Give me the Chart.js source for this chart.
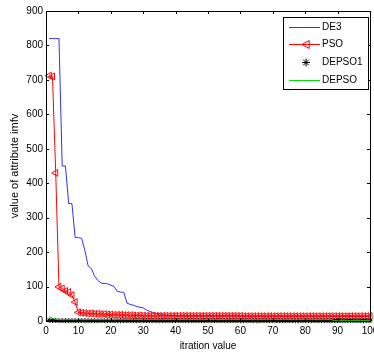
<!DOCTYPE html>
<html>
<head>
<meta charset="utf-8">
<script src="https://cdn.jsdelivr.net/npm/chart.js@4/dist/chart.umd.min.js"></script>
<style>
	html, body { margin: 0; padding: 0; background: #fff; overflow: hidden; }
	canvas { display: block; }
</style>
</head>
<body>
<canvas id="convChart" width="390" height="354"></canvas>
<script>
// iteration index 1..100 (x categories)
const iterations = Array.from({ length: 100 }, (_, i) => i + 1)

const xTicks = [0, 10, 20, 30, 40, 50, 60, 70, 80, 90, 100]
const yTicks = [0, 100, 200, 300, 400, 500, 600, 700, 800, 900]

const de3 = [
	820, 820, 820, 820, 450, 450, 341, 341, 242, 242,
	240, 205, 160, 152, 130, 118, 110, 109, 108, 104,
	100, 86, 84, 83, 52, 48, 46, 42, 40, 38,
	32, 28, 25, 22, 20, 18, 17, 16, 16, 15,
	15, 15, 15, 15, 15, 15, 15, 15, 15, 15,
	15, 15, 15, 15, 15, 15, 15, 15, 15, 15,
	14, 14, 14, 14, 14, 14, 14, 14, 14, 14,
	14, 14, 14, 14, 14, 14, 14, 14, 14, 14,
	14, 14, 14, 14, 14, 14, 14, 14, 14, 14,
	14, 14, 14, 14, 14, 14, 14, 14, 14, 14
]
const pso = [
	712, 710, 430, 99, 94, 87, 84, 75, 55, 25,
	24, 23, 22, 22, 21, 21, 20, 20, 19, 19,
	18, 18, 18, 17, 17, 17, 16, 16, 16, 16,
	15, 15, 15, 15, 15, 15, 15, 15, 15, 15,
	15, 15, 15, 15, 15, 15, 15, 15, 15, 15,
	15, 15, 15, 15, 15, 15, 15, 15, 15, 15,
	14, 14, 14, 14, 14, 14, 14, 14, 14, 14,
	14, 14, 14, 14, 14, 14, 14, 14, 14, 14,
	14, 14, 14, 14, 14, 14, 14, 14, 14, 14,
	14, 14, 14, 14, 14, 14, 14, 14, 14, 14
]
const depso1 = [
	2, 1.5, 1.5, 1, 1, 1, 1, 1, 1, 1,
	1, 1, 1, 1, 1, 1, 1, 1, 1, 1,
	1, 1, 1, 1, 1, 1, 1, 1, 1, 1,
	1, 1, 1, 1, 1, 1, 1, 1, 1, 1,
	1, 1, 1, 1, 1, 1, 1, 1, 1, 1,
	1, 1, 1, 1, 1, 1, 1, 1, 1, 1,
	1, 1, 1, 1, 1, 1, 1, 1, 1, 1,
	1, 1, 1, 1, 1, 1, 1, 1, 1, 1,
	1, 1, 1, 1, 1, 1, 1, 1, 1, 1,
	1, 1, 1, 1, 1, 1, 1, 1, 1, 1
]
const depso = [
	12, 8, 5, 4, 4, 4, 4, 4, 4, 4,
	4, 4, 4, 4, 4, 4, 4, 4, 4, 4,
	4, 4, 4, 4, 4, 4, 4, 4, 4, 4,
	4, 4, 4, 4, 4, 4, 4, 4, 4, 4,
	4, 4, 4, 4, 4, 4, 4, 4, 4, 4,
	4, 4, 4, 4, 4, 4, 4, 4, 4, 4,
	4, 4, 4, 4, 4, 4, 4, 4, 4, 4,
	4, 4, 4, 4, 4, 4, 4, 4, 4, 4,
	4, 4, 4, 4, 4, 4, 4, 4, 1, 1,
	1, 1, 1, 1, 1, 1, 1, 1, 1, 1
]

const FONT = "'Liberation Sans', Arial, sans-serif"

function toPoints(values) {
	return values.map((v, i) => ({ x: iterations[i], y: v }))
}

// matlab style box with inward ticks on all four sides
const frameTicks = {
	id: 'frameTicks',
	afterDraw(chart) {
		const ctx = chart.ctx
		const a = chart.chartArea
		const xs = chart.scales.x
		const ys = chart.scales.y
		ctx.save()
		ctx.strokeStyle = '#000'
		ctx.lineWidth = 1
		ctx.beginPath()
		xTicks.forEach(t => {
			const px = Math.round(xs.getPixelForValue(t)) + 0.5
			ctx.moveTo(px, a.bottom); ctx.lineTo(px, a.bottom - 3)
			ctx.moveTo(px, a.top); ctx.lineTo(px, a.top + 3)
		})
		yTicks.forEach(t => {
			const py = Math.round(ys.getPixelForValue(t)) + 0.5
			ctx.moveTo(a.left, py); ctx.lineTo(a.left + 3, py)
			ctx.moveTo(a.right, py); ctx.lineTo(a.right - 3, py)
		})
		ctx.stroke()
		ctx.strokeRect(Math.round(a.left) + 0.5, Math.round(a.top) + 0.5,
			Math.round(a.right - a.left), Math.round(a.bottom - a.top))
		ctx.restore()
	}
}

function drawMarker(ctx, style, cx, cy, r) {
	ctx.beginPath()
	if (style === 'triangle') {
		ctx.moveTo(cx - r, cy)
		ctx.lineTo(cx + r * 0.8, cy - r)
		ctx.lineTo(cx + r * 0.8, cy + r)
		ctx.closePath()
	} else if (style === 'star') {
		for (let k = 0; k < 4; k++) {
			const ang = k * Math.PI / 4
			ctx.moveTo(cx - Math.cos(ang) * r, cy - Math.sin(ang) * r)
			ctx.lineTo(cx + Math.cos(ang) * r, cy + Math.sin(ang) * r)
		}
	}
	ctx.stroke()
}

// legend box in the top right corner of the axes
const boxLegend = {
	id: 'boxLegend',
	afterDraw(chart) {
		const ctx = chart.ctx
		const a = chart.chartArea
		const w = 85, h = 72
		const left = a.right - 2 - w
		const top = a.top + 6
		ctx.save()
		ctx.fillStyle = '#fff'
		ctx.fillRect(left, top, w, h)
		ctx.strokeStyle = '#000'
		ctx.lineWidth = 1
		ctx.strokeRect(left + 0.5, top + 0.5, w, h)
		ctx.font = '10px ' + FONT
		ctx.textBaseline = 'middle'
		chart.data.datasets.forEach((ds, i) => {
			const y = top + 9.5 + i * 17.7
			ctx.strokeStyle = ds.borderColor
			ctx.lineWidth = 1
			if (ds.showLine !== false) {
				ctx.beginPath()
				ctx.moveTo(left + 6, Math.round(y) + 0.5)
				ctx.lineTo(left + 37, Math.round(y) + 0.5)
				ctx.stroke()
			}
			if (ds.pointRadius > 0) {
				drawMarker(ctx, ds.pointStyle, left + 23, Math.round(y) + 0.5, 4)
			}
			ctx.fillStyle = '#000'
			ctx.fillText(ds.label, left + 39, y + 0.5)
		})
		ctx.restore()
	}
}

function createConvChart(place) {
	const ctx = place.getContext('2d')
	return new Chart(ctx, {
		type: 'line',
		data: {
			datasets: [
				{
					label: 'DE3',
					data: toPoints(de3),
					borderColor: '#3030ff',
					borderWidth: 1,
					pointRadius: 0,
					order: 4,
				},
				{
					label: 'PSO',
					data: toPoints(pso),
					borderColor: '#ff0000',
					borderWidth: 1,
					pointStyle: 'triangle',
					pointRotation: -90,
					pointRadius: 4,
					pointBorderWidth: 1,
					pointBackgroundColor: 'rgba(0,0,0,0)',
					pointBorderColor: '#ff0000',
					clip: 6,
					order: 3,
				},
				{
					label: 'DEPSO1',
					data: toPoints(depso1),
					borderColor: '#000',
					showLine: false,
					pointStyle: 'star',
					pointRadius: 2.5,
					pointBorderWidth: 1,
					pointBorderColor: '#000',
					clip: 6,
					order: 2,
				},
				{
					label: 'DEPSO',
					data: toPoints(depso),
					borderColor: '#00dd00',
					borderWidth: 1,
					pointRadius: 0,
					order: 1,
				},
			],
		},
		options: {
			responsive: false,
			animation: false,
			devicePixelRatio: 1,
			layout: { padding: { top: 11, right: 20, left: 0, bottom: 0 } },
			plugins: {
				legend: { display: false },
				tooltip: { enabled: false },
			},
			elements: { line: { tension: 0 } },
			scales: {
				x: {
					type: 'linear',
					min: 0,
					max: 100,
					afterFit: s => { s.height = 33 },
					afterBuildTicks: s => { s.ticks = xTicks.map(v => ({ value: v })) },
					grid: { display: false, drawTicks: false },
					border: { display: false },
					ticks: { color: '#000', padding: 4, font: { family: FONT, size: 10 }, maxRotation: 0 },
					title: {
						display: true,
						text: 'itration value',
						color: '#000',
						font: { family: FONT, size: 10 },
						padding: { top: 0, bottom: 2 },
					},
				},
				y: {
					min: 0,
					max: 900,
					afterFit: s => { s.width = 46 },
					afterBuildTicks: s => { s.ticks = yTicks.map(v => ({ value: v })) },
					grid: { display: false, drawTicks: false },
					border: { display: false },
					ticks: { color: '#000', padding: 3, font: { family: FONT, size: 10 } },
					title: {
						display: true,
						text: 'value of attribute imfv',
						color: '#000',
						font: { family: FONT, size: 11 },
						padding: { top: 8, bottom: 0 },
					},
				},
			},
		},
		plugins: [frameTicks, boxLegend],
	})
}

createConvChart(document.getElementById('convChart'))
</script>
</body>
</html>
